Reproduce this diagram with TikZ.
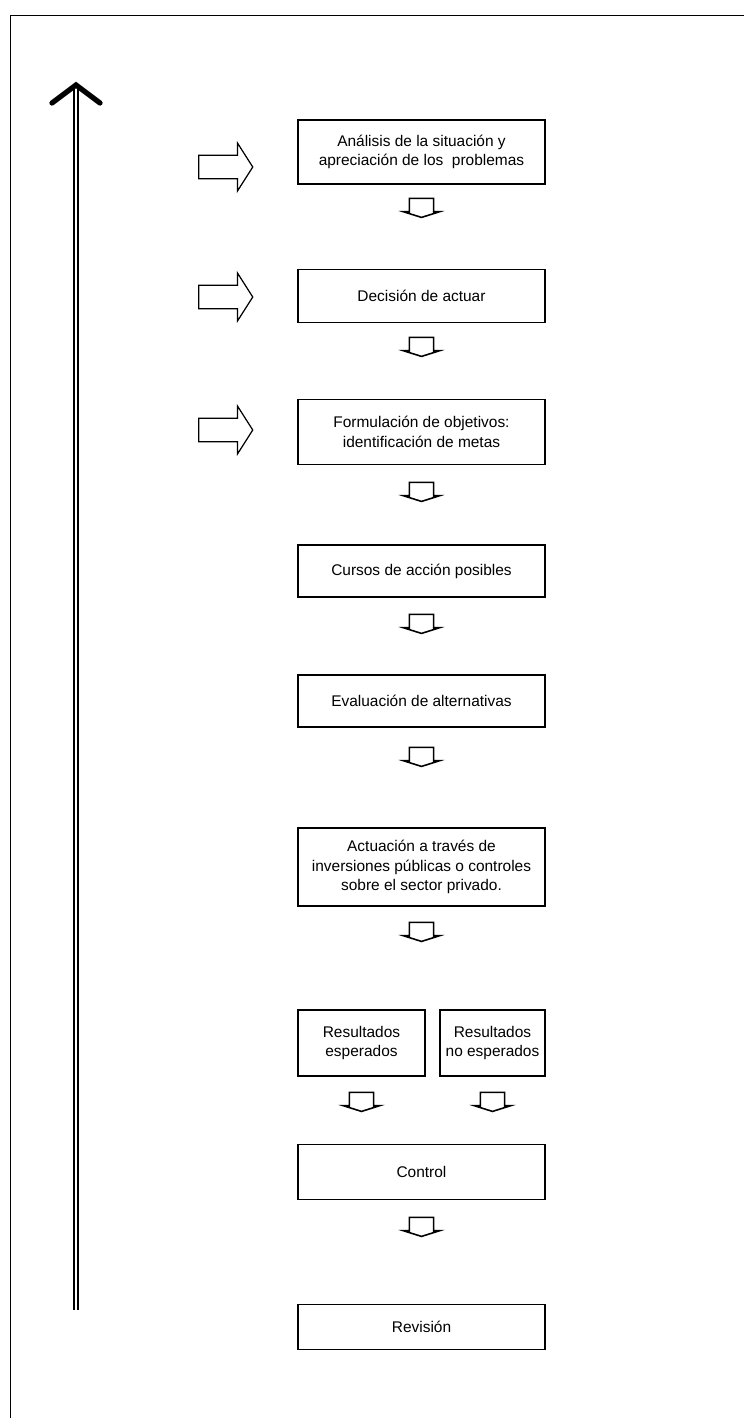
\documentclass[tikz,border=0pt]{standalone}
\usepackage{fontspec}
\setmainfont{Liberation Sans}
\usetikzlibrary{shapes.arrows}
\begin{document}
\begin{tikzpicture}[x=0.02cm,y=-0.02cm,
    box/.style={draw,line width=0.9pt,minimum width=4.94cm,inner sep=2pt,align=center,
      font=\fontsize{8.8}{11}\selectfont},
    downarr/.style={draw,line width=0.9pt,shape=single arrow,rotate=-90,
      inner xsep=0pt,inner ysep=0.19cm,
      minimum height=0.38cm,minimum width=0.72cm,
      single arrow head extend=0.1cm,single arrow tip angle=145},
    rightarr/.style={draw,line width=0.7pt,shape=single arrow,
      inner xsep=0pt,inner ysep=0.22cm,
      minimum height=1.08cm,minimum width=0.96cm,
      single arrow head extend=0.24cm,single arrow tip angle=115}]
  \useasboundingbox (0,0) rectangle (744,1418);
  \draw[line width=0.5pt] (10,1418) -- (10,15) -- (744,15);
  % steps of the process
  \node[box,minimum height=1.28cm] (b1) at (421.5,152) {An\'alisis de la situaci\'on y\\apreciaci\'on de los\ \ problemas};
  \node[box,minimum height=1.06cm] (b2) at (421.5,296) {Decisi\'on de actuar};
  \node[box,minimum height=1.30cm] (b3) at (421.5,432) {Formulaci\'on de objetivos:\\identificaci\'on de metas};
  \node[box,minimum height=1.04cm] (b4) at (421.5,571) {Cursos de acci\'on posibles};
  \node[box,minimum height=1.04cm] (b5) at (421.5,701) {Evaluaci\'on de alternativas};
  \node[box,minimum height=1.56cm] (b6) at (421.5,867) {Actuaci\'on a trav\'es de\\inversiones p\'ublicas o controles\\sobre el sector privado.};
  \node[box,minimum height=1.32cm,minimum width=2.54cm] (b7a) at (361.5,1043) {Resultados\\esperados};
  \node[box,minimum height=1.32cm,minimum width=2.10cm] (b7b) at (492.5,1043) {Resultados\\no esperados};
  \node[box,minimum height=1.10cm] (b8) at (421.5,1172) {Control};
  \node[box,minimum height=0.90cm] (b9) at (421.5,1327) {Revisi\'on};
  % block arrows
  \foreach \n/\x/\y in {1/421.5/206,2/421.5/345,3/421.5/490,4/421.5/622,5/421.5/755,6/421.5/930,7/361.5/1100,8/492.5/1100,9/421.5/1225}
    \node[downarr] (d\n) at (\x,\y) {};
  \foreach \n/\y in {1/167,2/297,3/430}
    \node[rightarr] (r\n) at (222,\y) {};
  % feedback arrow
  \coordinate (looptop) at (76,85);
  \coordinate (loopbot) at (76,1310);
  \draw[double,double distance=1.4pt,line width=0.8pt] (loopbot) -- (looptop);
  \draw[line width=3pt,line cap=round] ([xshift=-0.48cm,yshift=-0.36cm]looptop) -- (looptop) -- ([xshift=0.48cm,yshift=-0.36cm]looptop);
\end{tikzpicture}
\end{document}
